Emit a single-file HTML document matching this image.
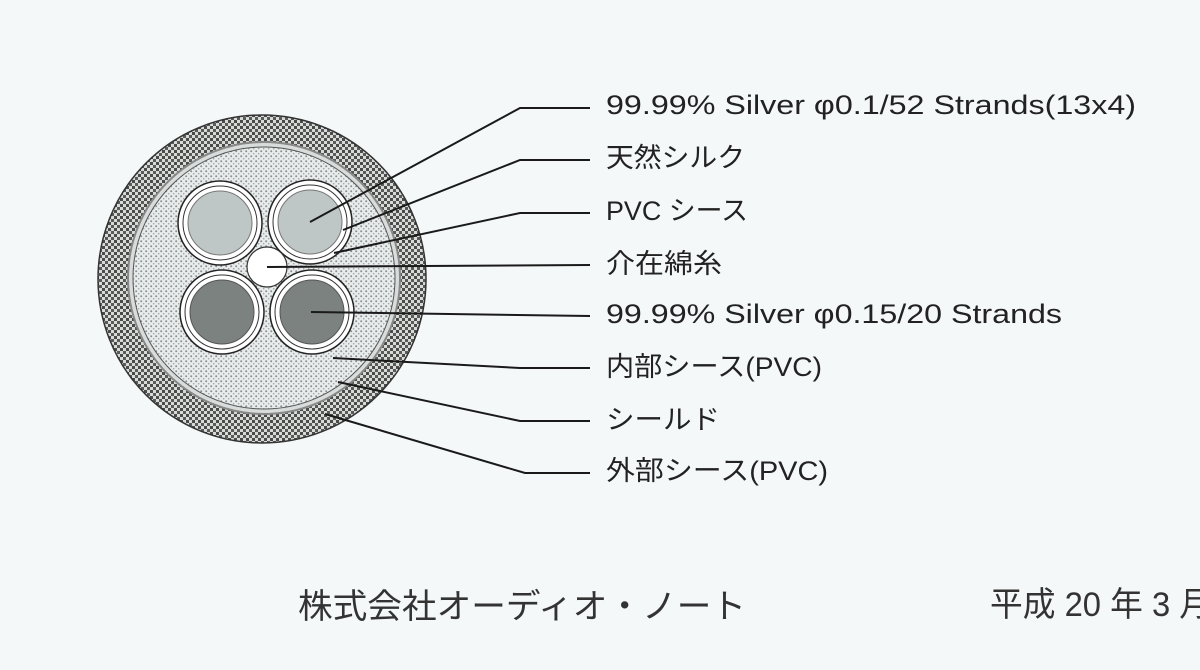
<!DOCTYPE html>
<html><head><meta charset="utf-8"><style>
html,body{margin:0;padding:0;background:#f4f8f9;}
body{width:1200px;height:670px;overflow:hidden;position:relative;}
svg{position:absolute;left:0;top:0;}
</style></head><body>
<svg width="1200" height="670" viewBox="0 0 1200 670">
<defs>
<pattern id="outer" width="6" height="6" patternUnits="userSpaceOnUse">
<rect width="6" height="6" fill="#d6dad8"/>
<rect width="3" height="3" fill="#4a4a48"/>
<rect x="3" y="3" width="3" height="3" fill="#5a5a58"/>
</pattern>
<pattern id="inner" width="5" height="5" patternUnits="userSpaceOnUse">
<rect width="5" height="5" fill="#e8ecec"/>
<circle cx="1.2" cy="1.2" r="1" fill="#8a8e8c"/>
<circle cx="3.7" cy="3.7" r="0.8" fill="#a2a6a4"/>
</pattern>
</defs>
<circle cx="262" cy="279" r="164" fill="url(#outer)" stroke="#333" stroke-width="1.5"/>
<circle cx="264" cy="278" r="136" fill="#d8dcdb" stroke="#888" stroke-width="2"/>
<circle cx="264" cy="278" r="131" fill="url(#inner)" stroke="#555" stroke-width="1"/>
<g stroke="#222" stroke-width="1.5">
<circle cx="220" cy="223" r="42" fill="#fff"/>
<circle cx="310" cy="222" r="42" fill="#fff"/>
<circle cx="222" cy="312" r="42" fill="#fff"/>
<circle cx="312" cy="312" r="42" fill="#fff"/>
</g>
<g stroke="#333" stroke-width="1">
<circle cx="220" cy="223" r="37" fill="#fff"/>
<circle cx="310" cy="222" r="37" fill="#fff"/>
<circle cx="222" cy="312" r="37" fill="#fff"/>
<circle cx="312" cy="312" r="37" fill="#fff"/>
</g>
<circle cx="220" cy="223" r="32" fill="#bfc6c6" stroke="#777"/>
<circle cx="310" cy="222" r="32" fill="#bfc6c6" stroke="#777"/>
<circle cx="222" cy="312" r="32" fill="#7c8280" stroke="#555"/>
<circle cx="312" cy="312" r="32" fill="#7c8280" stroke="#555"/>
<circle cx="267" cy="267" r="20" fill="#fff" stroke="#333" stroke-width="1.2"/>
<g fill="none" stroke="#1a1a1a" stroke-width="2">
<polyline points="310,222 520,108 590,108"/>
<polyline points="343,230 520,160 590,160"/>
<polyline points="334,253 520,213 590,213"/>
<polyline points="267,267 590,265"/>
<polyline points="311,312 590,316"/>
<polyline points="333,358 520,368 590,368"/>
<polyline points="338,382 520,421 590,421"/>
<polyline points="325,414 525,473 590,473"/>
</g>
<g fill="#222" style="font-family:'Liberation Sans','Noto Sans CJK JP',sans-serif;font-size:27px;">
<text x="606" y="114" textLength="530" lengthAdjust="spacingAndGlyphs">99.99% Silver φ0.1/52 Strands(13x4)</text>
<text x="606" y="167" textLength="139" lengthAdjust="spacingAndGlyphs">天然シルク</text>
<text x="606" y="220" textLength="142" lengthAdjust="spacingAndGlyphs">PVC シース</text>
<text x="606" y="273" textLength="116" lengthAdjust="spacingAndGlyphs">介在綿糸</text>
<text x="606" y="323" textLength="456" lengthAdjust="spacingAndGlyphs">99.99% Silver φ0.15/20 Strands</text>
<text x="606" y="376" textLength="216" lengthAdjust="spacingAndGlyphs">内部シース(PVC)</text>
<text x="606" y="429" textLength="114" lengthAdjust="spacingAndGlyphs">シールド</text>
<text x="606" y="480" textLength="222" lengthAdjust="spacingAndGlyphs">外部シース(PVC)</text>
</g>
<g fill="#333" style="font-family:'Liberation Sans','Noto Sans CJK JP',sans-serif;font-size:34px;">
<text x="298" y="618" textLength="448" lengthAdjust="spacingAndGlyphs">株式会社オーディオ・ノート</text>
<text x="990" y="616" textLength="222" lengthAdjust="spacingAndGlyphs">平成 20 年 3 月</text>
</g>
</svg>
</body></html>
